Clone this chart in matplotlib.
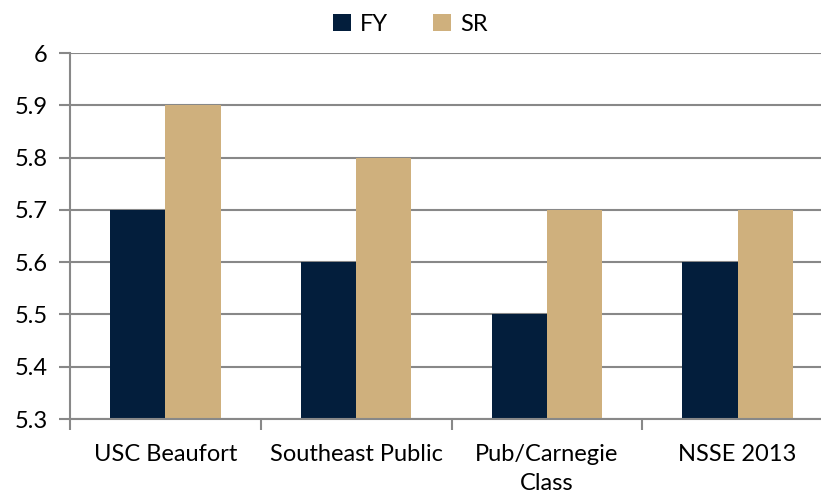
import matplotlib
matplotlib.use('Agg')
import matplotlib.pyplot as plt
import numpy as np

plt.rcParams['font.family'] = ['Lato', 'DejaVu Sans']

# datos
categories = ['USC Beaufort', 'Southeast Public', 'Pub/Carnegie\nClass', 'NSSE 2013']
fy = [5.7, 5.6, 5.5, 5.6]
sr = [5.9, 5.8, 5.7, 5.7]
yticks = [5.3, 5.4, 5.5, 5.6, 5.7, 5.8, 5.9, 6.0]
ytick_labels = ['5.3', '5.4', '5.5', '5.6', '5.7', '5.8', '5.9', '6']

navy = '#031e3c'
tan = '#cfb07d'
grid = '#888888'

fig = plt.figure(figsize=(8.21, 4.96), dpi=100)
ax = fig.add_axes([0.0853, 0.1552, 0.9293, 0.7379])

x = np.arange(len(categories))
w = 0.29
ax.bar(x - w / 2, fy, width=w, color=navy, label='FY', zorder=3)
ax.bar(x + w / 2, sr, width=w, color=tan, label='SR', zorder=3)

ax.set_xlim(-0.5, len(categories) - 0.5)
ax.set_ylim(5.3, 6.0)
ax.set_yticks(yticks)
ax.set_yticklabels(ytick_labels, fontsize=17)
ax.yaxis.grid(True, color=grid, linewidth=1.5, zorder=0)

# ticks en los bordes de categoria
ax.set_xticks(np.arange(len(categories) + 1) - 0.5)
ax.set_xticklabels([])
ax.set_xticks(x, minor=True)
ax.set_xticklabels(categories, minor=True, fontsize=17, linespacing=1.45)
ax.tick_params(axis='x', which='minor', length=0, pad=18)
ax.tick_params(axis='x', which='major', length=8, width=1.5, color=grid)
ax.tick_params(axis='y', length=8, width=1.5, color=grid, pad=8)

for s in ['top', 'right']:
    ax.spines[s].set_visible(False)
for s in ['left', 'bottom']:
    ax.spines[s].set_color(grid)
    ax.spines[s].set_linewidth(1.5)
    ax.spines[s].set_zorder(4)

fig.legend(loc='upper center', bbox_to_anchor=(0.5, 1.015), ncol=2, frameon=False,
           fontsize=17, handlelength=0.75, handleheight=0.75, columnspacing=1.9,
           handletextpad=0.4)

fig.savefig('out.png', dpi=100)
